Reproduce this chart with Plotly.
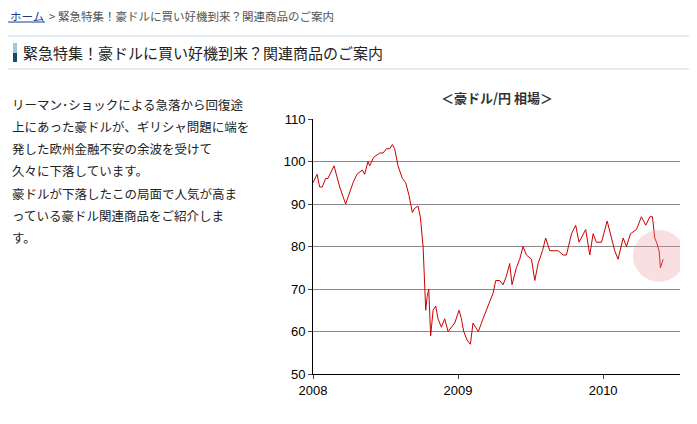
import plotly.graph_objects as go

# AUD/JPY rate (fractional year, yen)
years = [2008.000, 2008.028, 2008.046, 2008.064, 2008.087, 2008.103, 2008.145, 2008.184, 2008.225, 2008.253,
         2008.276, 2008.303, 2008.340, 2008.356, 2008.379, 2008.391, 2008.418, 2008.460, 2008.483, 2008.506,
         2008.529, 2008.547, 2008.563, 2008.586, 2008.616, 2008.639, 2008.662, 2008.685, 2008.701, 2008.724,
         2008.740, 2008.759, 2008.768, 2008.777, 2008.786, 2008.798, 2008.811, 2008.828, 2008.846, 2008.862,
         2008.885, 2008.908, 2008.931, 2008.954, 2008.977, 2009.007, 2009.023, 2009.039, 2009.062, 2009.085,
         2009.103, 2009.121, 2009.140, 2009.172, 2009.207, 2009.241, 2009.260, 2009.287, 2009.310, 2009.333,
         2009.356, 2009.372, 2009.402, 2009.425, 2009.448, 2009.471, 2009.506, 2009.529, 2009.552, 2009.582,
         2009.604, 2009.632, 2009.667, 2009.690, 2009.724, 2009.747, 2009.782, 2009.811, 2009.834, 2009.862,
         2009.880, 2009.908, 2009.931, 2009.954, 2009.989, 2010.028, 2010.057, 2010.080, 2010.103, 2010.138,
         2010.161, 2010.189, 2010.230, 2010.264, 2010.294, 2010.322, 2010.340, 2010.356, 2010.368, 2010.386,
         2010.395, 2010.414]
rates = [95, 97, 94, 94, 96, 96, 99, 94, 90, 93,
         95, 97, 98, 97, 100, 99, 101, 102, 102, 103,
         103, 104, 103, 99, 96, 95, 92, 88, 89, 89.5,
         87, 80, 72, 65, 68, 70, 59, 65, 66, 63,
         61, 63, 60, 61, 62, 65, 63, 60, 58, 57,
         62, 61, 60, 63, 66, 69, 72, 72, 71, 73,
         76, 71, 75, 77, 80, 78, 77, 72, 76, 79,
         82, 79, 79, 79, 78, 78, 83, 85, 81, 83,
         84, 78, 83, 81, 81, 86, 82, 79, 77, 82,
         80, 83, 84, 87, 85, 87, 87, 82, 81, 79,
         75, 77]
year_ticks = [2008, 2009, 2010]
intro = ["リーマン･ショックによる急落から回復途",
         "上にあった豪ドルが、ギリシャ問題に端を",
         "発した欧州金融不安の余波を受けて",
         "久々に下落しています。",
         "豪ドルが下落したこの局面で人気が高ま",
         "っている豪ドル関連商品をご紹介しま",
         "す。"]

OFF = 8  # page body margin
L, R, T, B = 313 - OFF, 680 - OFF, 119 - OFF, 374 - OFF
def px(x):
    return (x - OFF - L) / (R - L)
def py(y):
    return (B - (y - OFF)) / (B - T)

font = "Noto Sans CJK JP"
fig = go.Figure()
fig.add_trace(go.Scatter(x=years, y=rates, mode="lines",
                         line=dict(color="#cc0000", width=1), hoverinfo="skip"))

shapes = [
    # highlight circle
    dict(type="circle", xref="x", yref="y", x0=2010.206, x1=2010.566, y0=71.7, y1=83.9,
         fillcolor="rgba(240,150,160,0.3)", line=dict(width=0), layer="above"),
    # header box
    dict(type="rect", xref="paper", yref="paper", x0=px(5), x1=px(693), y0=py(36), y1=py(69),
         line=dict(color="#c8d8e4", width=1), fillcolor="rgba(0,0,0,0)"),
    dict(type="rect", xref="paper", yref="paper", x0=px(13), x1=px(17), y0=py(43), y1=py(53),
         line=dict(width=0), fillcolor="#9cc8e0"),
    dict(type="rect", xref="paper", yref="paper", x0=px(13), x1=px(17), y0=py(53), y1=py(62),
         line=dict(width=0), fillcolor="#1a4a66"),
    # breadcrumb underline
    dict(type="line", xref="paper", yref="paper", x0=px(8), x1=px(45), y0=py(22), y1=py(22),
         line=dict(color="#1a3a8a", width=1)),
]

ann = [
    dict(text="ホーム", x=px(8), y=py(16), font=dict(size=11.5, color="#1a3a8a")),
    dict(text="> 緊急特集！豪ドルに買い好機到来？関連商品のご案内", x=px(47), y=py(16),
         font=dict(size=11.5, color="#555")),
    dict(text="緊急特集！豪ドルに買い好機到来？関連商品のご案内", x=px(21), y=py(52),
         font=dict(size=15, color="#222")),
    dict(text="<b>＜豪ドル/円 相場＞</b>", x=px(497), y=py(97), xanchor="center",
         font=dict(size=13, color="#333")),
]
for i, line in enumerate(intro):
    ann.append(dict(text=line, x=px(10), y=py(104 + i * 22.3), font=dict(size=12.5, color="#222")))
for a in ann:
    a.update(xref="paper", yref="paper", showarrow=False, yanchor="middle")
    a.setdefault("xanchor", "left")
    a["font"]["family"] = font

fig.update_layout(
    width=697, height=424, margin=dict(l=L, r=697 - R, t=T, b=424 - B),
    paper_bgcolor="white", plot_bgcolor="white", showlegend=False,
    shapes=shapes, annotations=ann,
    font=dict(family="Liberation Sans", size=13, color="#000"),
    xaxis=dict(range=[2008, 2010.53], tickvals=year_ticks, ticktext=[str(y) for y in year_ticks],
               showgrid=False, showline=True, linecolor="black", ticks="outside",
               ticklen=4, zeroline=False),
    yaxis=dict(range=[50, 110], dtick=10, showgrid=True, gridcolor="#888", gridwidth=1,
               showline=True, linecolor="black", ticks="outside", ticklen=4, zeroline=False),
)
fig.write_html("out.html")
